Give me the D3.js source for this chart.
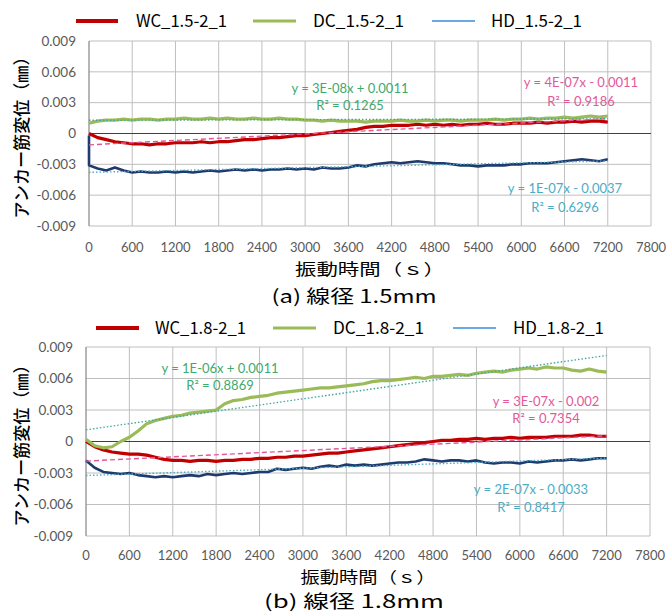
<!DOCTYPE html>
<html><head><meta charset="utf-8">
<script src="https://cdn.jsdelivr.net/npm/d3@7"></script>
<style>
html,body{margin:0;padding:0;background:#fff;}
svg{display:block;}
</style></head>
<body>
<svg id="c" width="666" height="615"></svg>
<script>
// ---- data ----
const time = d3.range(0, 7201, 120); // sampling grid (s)
const xTicks = [0,600,1200,1800,2400,3000,3600,4200,4800,5400,6000,6600,7200,7800];
const yTicks = [0.009,0.006,0.003,0,-0.003,-0.006,-0.009];
const yTickLabels = ["0.009","0.006","0.003","0","-0.003","-0.006","-0.009"];

const seriesNamesA = ["WC_1.5-2_1","DC_1.5-2_1","HD_1.5-2_1"];
const seriesNamesB = ["WC_1.8-2_1","DC_1.8-2_1","HD_1.8-2_1"];

const wcA = [0.0000,-0.0004,-0.0006,-0.0008,-0.0009,-0.0010,-0.0010,-0.0011,-0.0010,-0.0010,
 -0.0009,-0.0009,-0.0009,-0.0008,-0.0009,-0.0008,-0.0008,-0.0007,-0.0006,-0.0006,
 -0.0005,-0.0004,-0.0004,-0.0003,-0.0002,-0.0002,-0.0001,0.0000,0.0001,0.0002,
 0.0003,0.0004,0.0006,0.0007,0.0007,0.0008,0.0008,0.0008,0.0009,0.0008,
 0.0009,0.0008,0.0009,0.0008,0.0009,0.0009,0.0010,0.0009,0.0009,0.0010,
 0.0010,0.0010,0.0011,0.0010,0.0011,0.0011,0.0012,0.0011,0.0012,0.0012,0.0011];
const dcA = [0.0010,0.0012,0.0013,0.0013,0.0014,0.0013,0.0014,0.0014,0.0013,0.0014,
 0.0014,0.0015,0.0014,0.0014,0.0015,0.0014,0.0015,0.0014,0.0014,0.0015,
 0.0014,0.0014,0.0015,0.0014,0.0014,0.0013,0.0013,0.0012,0.0013,0.0012,
 0.0012,0.0012,0.0011,0.0012,0.0012,0.0012,0.0013,0.0012,0.0012,0.0013,
 0.0012,0.0013,0.0013,0.0012,0.0013,0.0013,0.0013,0.0014,0.0013,0.0014,
 0.0014,0.0015,0.0014,0.0015,0.0015,0.0016,0.0015,0.0016,0.0017,0.0016,0.0017];
const hdAStart = -0.0002; // reading at the very first instant (t = 0)
const hdA = [-0.0031,-0.0034,-0.0036,-0.0033,-0.0036,-0.0038,-0.0037,-0.0038,-0.0038,-0.0037,
 -0.0038,-0.0037,-0.0038,-0.0037,-0.0036,-0.0037,-0.0036,-0.0035,-0.0036,-0.0035,
 -0.0036,-0.0035,-0.0035,-0.0034,-0.0035,-0.0034,-0.0035,-0.0033,-0.0034,-0.0034,
 -0.0033,-0.0031,-0.0032,-0.0030,-0.0029,-0.0028,-0.0029,-0.0028,-0.0027,-0.0028,
 -0.0029,-0.0029,-0.0030,-0.0031,-0.0031,-0.0032,-0.0031,-0.0031,-0.0031,-0.0030,
 -0.0030,-0.0029,-0.0029,-0.0029,-0.0028,-0.0027,-0.0026,-0.0025,-0.0026,-0.0027,-0.0025];

const wcB = [0.0000,-0.0005,-0.0008,-0.0010,-0.0011,-0.0012,-0.0012,-0.0013,-0.0015,-0.0017,
 -0.0018,-0.0018,-0.0019,-0.0018,-0.0018,-0.0019,-0.0018,-0.0018,-0.0017,-0.0017,
 -0.0016,-0.0016,-0.0015,-0.0015,-0.0014,-0.0014,-0.0013,-0.0012,-0.0011,-0.0011,
 -0.0010,-0.0009,-0.0008,-0.0007,-0.0006,-0.0005,-0.0004,-0.0003,-0.0002,-0.0001,
 0.0000,0.0001,0.0001,0.0002,0.0002,0.0003,0.0002,0.0003,0.0003,0.0004,
 0.0003,0.0004,0.0004,0.0004,0.0005,0.0005,0.0005,0.0006,0.0006,0.0005,0.0005];
const dcB = [0.0002,-0.0004,-0.0006,-0.0005,0.0000,0.0004,0.0010,0.0017,0.0020,0.0022,
 0.0024,0.0025,0.0027,0.0028,0.0029,0.0030,0.0036,0.0039,0.0040,0.0042,
 0.0043,0.0044,0.0046,0.0047,0.0048,0.0049,0.0050,0.0051,0.0051,0.0052,
 0.0053,0.0054,0.0055,0.0057,0.0058,0.0058,0.0059,0.0060,0.0061,0.0060,
 0.0062,0.0062,0.0063,0.0064,0.0063,0.0065,0.0066,0.0067,0.0066,0.0068,
 0.0069,0.0070,0.0069,0.0071,0.0070,0.0070,0.0068,0.0067,0.0069,0.0067,0.0066];
const hdB = [-0.0018,-0.0025,-0.0029,-0.0030,-0.0031,-0.0030,-0.0032,-0.0033,-0.0034,-0.0033,
 -0.0034,-0.0033,-0.0032,-0.0033,-0.0031,-0.0032,-0.0031,-0.0030,-0.0031,-0.0030,
 -0.0029,-0.0029,-0.0026,-0.0027,-0.0026,-0.0025,-0.0026,-0.0024,-0.0023,-0.0024,
 -0.0022,-0.0023,-0.0022,-0.0023,-0.0022,-0.0021,-0.0020,-0.0020,-0.0019,-0.0017,
 -0.0018,-0.0019,-0.0018,-0.0018,-0.0019,-0.0018,-0.0020,-0.0021,-0.0020,-0.0020,
 -0.0021,-0.0019,-0.0020,-0.0019,-0.0018,-0.0018,-0.0017,-0.0018,-0.0017,-0.0016,-0.0016];

const eqA = [["y = 4E-07x - 0.0011","R² = 0.9186"],["y = 3E-08x + 0.0011","R² = 0.1265"],["y = 1E-07x - 0.0037","R² = 0.6296"]];
const eqB = [["y = 3E-07x - 0.002","R² = 0.7354"],["y = 1E-06x + 0.0011","R² = 0.8869"],["y = 2E-07x - 0.0033","R² = 0.8417"]];

const yTitle = "アンカー筋変位（㎜）";
const xTitle = "振動時間（ｓ）";
const captions = ["(a) 線径 1.5mm","(b) 線径 1.8mm"];

// ---- style ----
const lineColors = ["#C00000","#9BBB59","#1F3A6E"];
const lineWidths = [3.2,3.2,2.6];
const legColors = ["#C00000","#9BBB59","#3A8DDB"];
const legWidths = [4,3,1.5];
const trendColors = ["#E4579A","#3FA8A0","#4BACC6"];
const trendDash = ["5,3","1.5,2","1.5,2"];
const eqColors = ["#E4579A","#3DAA6E","#4BACC6"];

const panels = [
  {names: seriesNamesA, data:[wcA,dcA,hdA], starts:[null,null,hdAStart], eq:eqA,
   L:89, R:651, T:41, B:226, tickY:247,
   legY:21, legX:[[76,118,136],[253,296,313],[432,475,491]],
   eqPos:[[581,82,581,101],[350,88,350,105],[565,188,565,207]],
   xTitleY:270, capY:297, xTitleW:150, capW:165},
  {names: seriesNamesB, data:[wcB,dcB,hdB], starts:[null,null,null], eq:eqB,
   L:86, R:650, T:347, B:536, tickY:555,
   legY:328, legX:[[96,139,155],[273,316,333],[453,496,513]],
   eqPos:[[546,401,546,418],[220,368,220,385],[531,489,531,507]],
   xTitleY:578, capY:602, xTitleW:135, capW:180}
];

const svg = d3.select("#c");
const numFont = "Lato, 'Open Sans', sans-serif";
const jpFont = "'Noto Sans CJK JP', 'Noto Sans', sans-serif";

function regress(xs, ys){
  const mx = d3.mean(xs), my = d3.mean(ys);
  let sxy=0, sxx=0;
  xs.forEach((x,i)=>{sxy+=(x-mx)*(ys[i]-my); sxx+=(x-mx)*(x-mx);});
  const b = sxy/sxx; return {a: my-b*mx, b};
}

panels.forEach((p,pi)=>{
  const x = d3.scaleLinear().domain([0,7800]).range([p.L,p.R]);
  const y = d3.scaleLinear().domain([-0.009,0.009]).range([p.B,p.T]);
  const g = svg.append("g");

  g.selectAll(".vg").data(xTicks).join("line")
    .attr("x1",d=>x(d)).attr("x2",d=>x(d)).attr("y1",p.T).attr("y2",p.B)
    .attr("stroke","#BFBFBF").attr("stroke-width",1);
  g.selectAll(".hg").data(yTicks).join("line")
    .attr("x1",p.L).attr("x2",p.R).attr("y1",d=>y(d)).attr("y2",d=>y(d))
    .attr("stroke","#BFBFBF").attr("stroke-width",1);
  g.append("line").attr("x1",p.L).attr("x2",p.L).attr("y1",p.T).attr("y2",p.B)
    .attr("stroke","#8C8C8C").attr("stroke-width",1);
  g.append("line").attr("x1",p.L).attr("x2",p.R).attr("y1",y(0)).attr("y2",y(0))
    .attr("stroke","#404040").attr("stroke-width",1.2);

  g.selectAll(".yl").data(yTicks).join("text")
    .attr("x",p.L-13).attr("y",d=>y(d)).attr("dy","0.35em")
    .attr("text-anchor","end").attr("font-family",numFont).attr("font-size",13.5)
    .attr("fill","#595959").text((d,i)=>yTickLabels[i]);
  g.selectAll(".xl").data(xTicks).join("text")
    .attr("x",d=>x(d)).attr("y",p.tickY).attr("dy","0.35em")
    .attr("text-anchor","middle").attr("font-family",numFont).attr("font-size",13)
    .attr("fill","#595959").text(d=>d);

  const line = d3.line().x(d=>x(d[0])).y(d=>y(d[1]));
  p.data.forEach((arr,k)=>{
    let pts = time.map((t,i)=>[t,arr[i]]);
    if (p.starts[k] !== null) pts = [[0,p.starts[k]]].concat(pts);
    g.append("path").datum(pts)
      .attr("d",line).attr("fill","none")
      .attr("stroke",lineColors[k]).attr("stroke-width",lineWidths[k])
      .attr("stroke-linejoin","round");
  });
  p.data.forEach((arr,k)=>{
    const r = regress(time, arr);
    const t0 = time[0], t1 = time[time.length-1];
    g.append("path").datum([[t0,r.a+r.b*t0],[t1,r.a+r.b*t1]])
      .attr("d",line).attr("fill","none")
      .attr("stroke",trendColors[k]).attr("stroke-width",1.4)
      .attr("stroke-dasharray",trendDash[k]);
  });
  p.eq.forEach((e,k)=>{
    const pos = p.eqPos[k];
    g.append("text").attr("x",pos[0]).attr("y",pos[1]).attr("dy","0.35em")
      .attr("text-anchor","middle").attr("font-family",numFont).attr("font-size",13)
      .attr("fill",eqColors[k]).text(e[0]);
    g.append("text").attr("x",pos[2]).attr("y",pos[3]).attr("dy","0.35em")
      .attr("text-anchor","middle").attr("font-family",numFont).attr("font-size",13)
      .attr("fill",eqColors[k]).text(e[1]);
  });

  p.names.forEach((n,k)=>{
    const lx = p.legX[k];
    g.append("line").attr("x1",lx[0]).attr("x2",lx[1]).attr("y1",p.legY).attr("y2",p.legY)
      .attr("stroke",legColors[k]).attr("stroke-width",legWidths[k]);
    g.append("text").attr("x",lx[2]).attr("y",p.legY).attr("dy","0.36em")
      .attr("font-family",jpFont).attr("font-size",17).attr("fill","#000")
      .attr("textLength",91).attr("lengthAdjust","spacingAndGlyphs").text(n);
  });

  const cy = (p.T+p.B)/2;
  g.append("text").attr("transform",`translate(22,${cy}) rotate(-90)`)
    .attr("text-anchor","middle").attr("dy","0.35em")
    .attr("font-family",jpFont).attr("font-size",17).attr("font-weight",500)
    .attr("fill","#000").attr("textLength",170).attr("lengthAdjust","spacingAndGlyphs")
    .text(yTitle);
  g.append("text").attr("x",(p.L+p.R)/2).attr("y",p.xTitleY).attr("dy","0.35em")
    .attr("text-anchor","middle").attr("font-family",jpFont).attr("font-size",15.5)
    .attr("fill","#000").attr("textLength",p.xTitleW).attr("lengthAdjust","spacingAndGlyphs")
    .text(xTitle);
  g.append("text").attr("x",354).attr("y",p.capY).attr("dy","0.35em")
    .attr("text-anchor","middle").attr("font-family",jpFont).attr("font-size",18)
    .attr("fill","#000").attr("textLength",p.capW).attr("lengthAdjust","spacingAndGlyphs")
    .text(captions[pi]);
});
</script>
</body></html>
